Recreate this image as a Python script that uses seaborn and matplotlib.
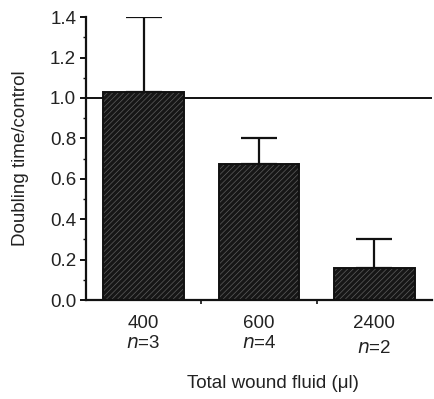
import numpy as np
import pandas as pd
import matplotlib
matplotlib.use("Agg")
import matplotlib.pyplot as plt
import seaborn as sns

# data
volumes = ["400", "600", "2400"]
n_labels = ["3", "4", "2"]
ratio = [1.03, 0.675, 0.16]
err_top = [1.40, 0.80, 0.30]

sns.set_style("ticks")
plt.rcParams["font.family"] = ["Liberation Sans", "DejaVu Sans"]
plt.rcParams["hatch.linewidth"] = 0.5

df = pd.DataFrame({"volume": volumes, "ratio": ratio})

fig = plt.figure(figsize=(4.34, 3.99), dpi=100)
ax = fig.add_axes([0.198, 0.248, 0.797, 0.709])

# hatched dark fill
sns.barplot(data=df, x="volume", y="ratio", color="#161616", width=0.7,
            saturation=1, errorbar=None, linewidth=0, ax=ax)
for p in ax.patches:
    p.set_hatch("//////")
    p.set_edgecolor("#5e5e5e")
    p.set_linewidth(0)
# black outline on top
sns.barplot(data=df, x="volume", y="ratio", fill=False, width=0.7,
            edgecolor="#111111", linewidth=1.4, errorbar=None, ax=ax)

# upper error bars only
upper = np.array(err_top) - np.array(ratio)
ax.errorbar(np.arange(len(volumes)), ratio,
            yerr=[np.zeros(len(ratio)), upper], fmt="none",
            ecolor="#111111", elinewidth=1.6, capsize=13, capthick=1.6, zorder=1)

ax.axhline(1.0, color="#111111", lw=1.4, zorder=0)

fs = 13.5
ax.set_xlim(-0.5, 2.5)
ax.set_ylim(0, 1.4)
ax.set_yticks(np.arange(0, 1.41, 0.2))
ax.set_yticklabels([f"{v:.1f}" for v in np.arange(0, 1.41, 0.2)])
ax.set_yticks(np.arange(0.1, 1.4, 0.2), minor=True)
ax.set_xticks([0.5, 1.5], minor=True)
ax.tick_params(axis="y", which="major", length=4, width=1.4, labelsize=fs, pad=3, color="#111111", labelcolor="#222222")
ax.tick_params(axis="y", which="minor", length=2, width=1, color="#111111")
ax.tick_params(axis="x", which="major", length=0, labelsize=fs, pad=11, labelcolor="#222222")
ax.tick_params(axis="x", which="minor", length=3, width=1.2, color="#111111")

for i, n in enumerate(n_labels):
    yoff = -0.155 if n != "2" else -0.172
    ax.text(i, yoff, f"$\\it{{n}}$=" + n, transform=ax.get_xaxis_transform(),
            ha="center", va="center", fontsize=fs, color="#222222")

sns.despine(ax=ax)
for s in ["left", "bottom"]:
    ax.spines[s].set_linewidth(1.6)
    ax.spines[s].set_color("#111111")

ax.set_xlabel("Total wound fluid (\u03bcl)", fontsize=fs, color="#222222")
ax.xaxis.set_label_coords(0.54, -0.265)
ax.set_ylabel("Doubling time/control", fontsize=fs, color="#222222")
ax.yaxis.set_label_coords(-0.165, 0.5)

fig.savefig("out.png", dpi=100)
